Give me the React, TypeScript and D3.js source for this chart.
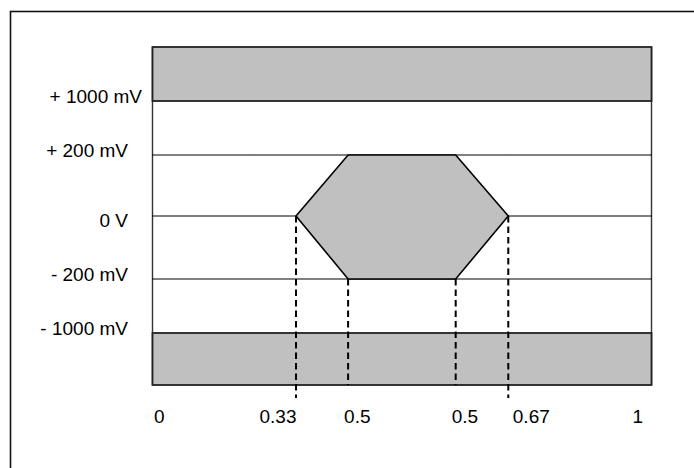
import React from "react";
import * as d3 from "d3";

// ---- data ----
const levelValues = [1000, 200, 0, -200, -1000]; // mV
const levelLabels = ["+ 1000 mV", "+ 200 mV", "0 V", "- 200 mV", "- 1000 mV"];
const limitValues = [1400, -1400]; // schematic plot limits (mV)
const maskTimes = [0.2876, 0.392, 0.6076, 0.713]; // schematic x-positions of mask vertices
const xTickPositions = [0, 0.2876, 0.392, 0.6076, 0.713, 1];
const xTickLabels = ["0", "0.33", "0.5", "0.5", "0.67", "1"];
const maskInner = 200; // mV

// ---- layout ----
const W = 694;
const H = 468;
const FONT = "'Liberation Sans', Arial, sans-serif";
const FS = 19;
const GRAY = "#c0c0c0";
const xAnchors = ["start", "end", "start", "start", "start", "end"];
const xDx = [1.5, 0.5, -4, -4, 4.5, -8.5];
const yLabelRight = [142, 128, 128, 128, 128];
const yLabelDy = [1.5, 1.5, 10.5, 1.5, 1.5];

export default function App() {
  const x = d3.scaleLinear().domain([0, 1]).range([152.5, 651.5]);
  const y = d3
    .scaleLinear()
    .domain([limitValues[0], ...levelValues, limitValues[1]])
    .range([47, 101, 155, 216, 279, 333, 385]);

  const [tL, tIL, tIR, tR] = maskTimes;
  const hexPts: [number, number][] = [
    [x(tL), y(0)],
    [x(tIL), y(maskInner)],
    [x(tIR), y(maskInner)],
    [x(tR), y(0)],
    [x(tIR), y(-maskInner)],
    [x(tIL), y(-maskInner)],
  ];
  const hexPath = d3.line()(hexPts) + "Z";

  const plotL = x(0);
  const plotR = x(1);
  const plotT = y(limitValues[0]);
  const plotB = y(limitValues[1]);

  return (
    <svg
      width={W}
      height={H}
      style={{ position: "absolute", left: 0, top: 0, background: "#fff" }}
    >
      {/* outer frame */}
      <rect x={10.5} y={11.5} width={720} height={500} fill="none" stroke="#111" strokeWidth={1.6} />

      {/* plot side lines */}
      <line x1={plotL} x2={plotL} y1={plotT} y2={plotB} stroke="#333" strokeWidth={1.4} />
      <line x1={plotR} x2={plotR} y1={plotT} y2={plotB} stroke="#333" strokeWidth={1.4} />

      {/* dotted level lines */}
      {[maskInner, 0, -maskInner].map((v) => (
        <line
          key={v}
          x1={plotL}
          x2={plotR}
          y1={y(v)}
          y2={y(v)}
          stroke="#000"
          strokeWidth={1.8}
          strokeDasharray="1,1"
        />
      ))}

      {/* forbidden bands */}
      <rect
        x={plotL}
        y={y(limitValues[0])}
        width={plotR - plotL}
        height={y(levelValues[0]) - y(limitValues[0])}
        fill={GRAY}
        stroke="#222"
        strokeWidth={1.8}
      />
      <rect
        x={plotL}
        y={y(levelValues[4])}
        width={plotR - plotL}
        height={y(limitValues[1]) - y(levelValues[4])}
        fill={GRAY}
        stroke="#222"
        strokeWidth={1.8}
      />

      {/* eye mask */}
      <path d={hexPath} fill={GRAY} stroke="#000" strokeWidth={1.6} strokeLinejoin="miter" />

      {/* dashed verticals */}
      {[tL, tR].map((t) => (
        <line
          key={"o" + t}
          x1={x(t)}
          x2={x(t)}
          y1={y(0)}
          y2={plotB + 13}
          stroke="#000"
          strokeWidth={2}
          strokeDasharray="6.5,4"
        />
      ))}
      {[tIL, tIR].map((t) => (
        <line
          key={"i" + t}
          x1={x(t)}
          x2={x(t)}
          y1={y(-maskInner)}
          y2={plotB}
          stroke="#000"
          strokeWidth={2}
          strokeDasharray="6.5,4"
        />
      ))}

      {/* y labels */}
      {levelLabels.map((lab, i) => (
        <text
          key={lab}
          x={yLabelRight[i]}
          y={y(levelValues[i]) + yLabelDy[i]}
          textAnchor="end"
          fontFamily={FONT}
          fontSize={FS}
          fill="#000"
        >
          {lab}
        </text>
      ))}

      {/* x labels */}
      {xTickLabels.map((lab, i) => (
        <text
          key={i}
          x={x(xTickPositions[i]) + xDx[i]}
          y={423}
          textAnchor={xAnchors[i]}
          fontFamily={FONT}
          fontSize={FS}
          fill="#000"
        >
          {lab}
        </text>
      ))}
    </svg>
  );
}
